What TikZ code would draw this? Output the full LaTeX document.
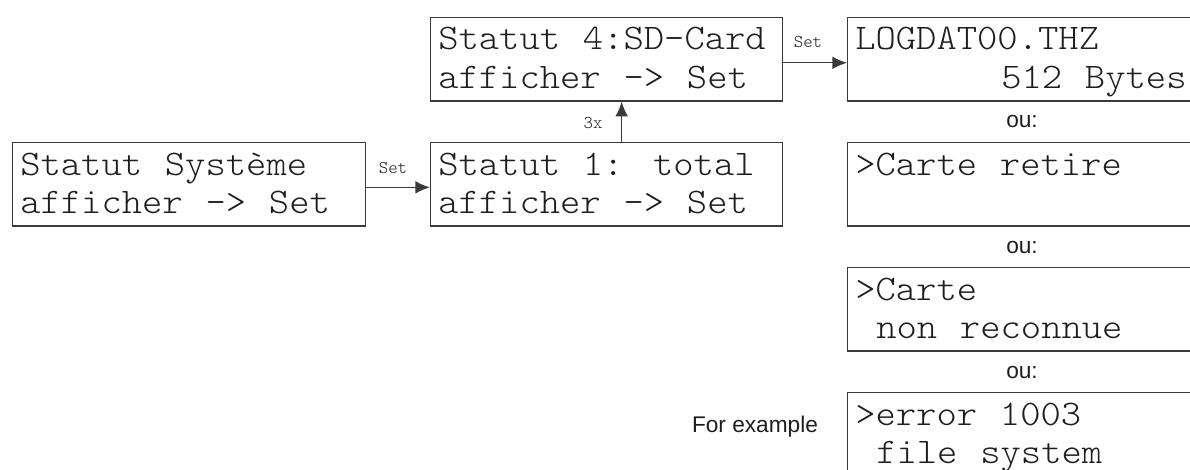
\documentclass[tikz,border=0pt]{standalone}
\usepackage{fontspec}
\setmainfont{Liberation Sans}
\newfontfamily\lcdfont{lmmonolt10-regular.otf}[FakeStretch=1.075, WordSpace=1.12]
\newfontfamily\keyfont{lmmonolt10-regular.otf}
\usetikzlibrary{arrows.meta}
\definecolor{linec}{HTML}{3A3A3A}
\definecolor{txtc}{HTML}{1E1E1E}
\tikzset{
  lcdbox/.style={draw=linec, line width=1pt, rectangle, inner sep=0pt, anchor=north west, minimum height=62.5pt},
  lcdtext/.style={anchor=base west, inner sep=0pt, text=txtc, font=\lcdfont\fontsize{27pt}{30pt}\selectfont},
  keylabel/.style={inner sep=0pt, text=txtc, font=\keyfont\fontsize{13.5pt}{15pt}\selectfont},
  orlabel/.style={inner sep=0pt, text=txtc, font=\fontsize{17pt}{20pt}\selectfont},
  arr/.style={draw=linec, line width=1pt, -{Latex[length=11pt,width=9.5pt]}}
}
\begin{document}
\begin{tikzpicture}[x=0.75pt,y=-0.75pt]
\clip (0,0) rectangle (1190,469);
\fill[white] (0,0) rectangle (1190,469);
% boxes
\node[lcdbox, minimum width=264.75pt] (A) at (12,142) {};
\node[lcdbox, minimum width=264pt] (B) at (430,142) {};
\node[lcdbox, minimum width=264pt] (C) at (430,17) {};
\node[lcdbox, minimum width=300pt] (D) at (847,17) {};
\node[lcdbox, minimum width=300pt] (E) at (847,142) {};
\node[lcdbox, minimum width=300pt] (F) at (847,267) {};
\node[lcdbox, minimum width=300pt] (G) at (847,392) {};
% texts
\node[lcdtext] (A1) at (20,175) {Statut Système};
\node[lcdtext] (A2) at (20,213) {afficher -> Set};
\node[lcdtext] (B1) at (438,175) {Statut 1: total};
\node[lcdtext] (B2) at (438,213) {afficher -> Set};
\node[lcdtext] (C1) at (438,49) {Statut 4:SD-Card};
\node[lcdtext] (C2) at (438,88) {afficher -> Set};
\node[lcdtext] (D1) at (855,49) {LOGDAT00.THZ};
\node[lcdtext] (D2) at (1001,88) {512 Bytes};
\node[lcdtext] (E1) at (855,175) {>Carte retire};
\node[lcdtext] (F1) at (855,300) {>Carte};
\node[lcdtext] (F2) at (876,338) {non reconnue};
\node[lcdtext] (G1) at (855,425) {>error 1003};
\node[lcdtext] (G2) at (876,463) {file system};
% connectors
\draw[arr] ([yshift=-2.25pt]A.east) -- ([yshift=-2.25pt]A.east -| B.west);
\node[keylabel] (s1) at (393,168) {Set};
\draw[arr] ([xshift=11.25pt]B.north) -- ([xshift=11.25pt]C.south);
\node[keylabel] (s2) at (593,123) {3x};
\draw[arr] ([yshift=-2.6pt]C.east) -- ([yshift=-2.6pt]C.east -| D.west);
\node[keylabel] (s3) at (808,42) {Set};
% ou labels
\node[orlabel] (o1) at (1022,122) {ou:};
\node[orlabel] (o2) at (1022,248) {ou:};
\node[orlabel] (o3) at (1022,373) {ou:};
\node[orlabel] (ex) at (755,427) {For example};
\end{tikzpicture}
\end{document}
